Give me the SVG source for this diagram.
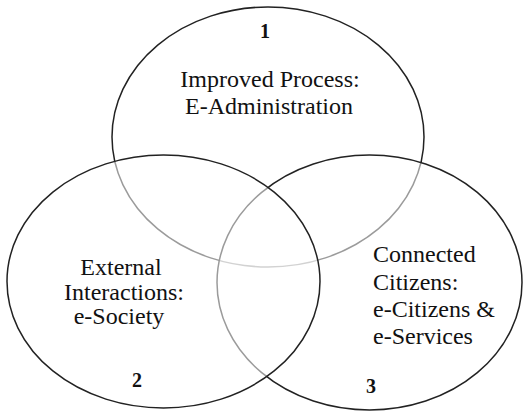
<svg xmlns="http://www.w3.org/2000/svg" width="523" height="413" viewBox="0 0 523 413">
<style>
.c{fill:#fff;fill-opacity:0.55;stroke:#222;stroke-width:1.5}
.t{font-family:'Liberation Serif','DejaVu Serif',serif;font-size:24px;fill:#111}
.n{font-family:'Liberation Serif','DejaVu Serif',serif;font-size:20px;font-weight:bold;fill:#111;text-anchor:middle}
</style>
<rect width="523" height="413" fill="#fff"/>
<g id="node1">
<ellipse class="c" cx="268" cy="137" rx="156" ry="130"/>
</g>
<g id="node3">
<ellipse class="c" cx="369.5" cy="282.5" rx="152.5" ry="127.5"/>
</g>
<g id="node2">
<ellipse class="c" cx="163.5" cy="281.5" rx="156.5" ry="126.5"/>
</g>
<g id="connectors"></g>
<g id="labels1">
<text class="n" x="265" y="38">1</text>
<text class="t" x="270" y="87" text-anchor="middle">Improved Process:</text>
<text class="t" x="269" y="114" text-anchor="middle">E-Administration</text>
</g>
<g id="labels2">
<text class="t" x="121" y="275" text-anchor="middle">External</text>
<text class="t" x="124" y="300" text-anchor="middle">Interactions:</text>
<text class="t" x="119" y="324" text-anchor="middle">e-Society</text>
<text class="n" x="137" y="387">2</text>
</g>
<g id="labels3">
<text class="t" x="373" y="262">Connected</text>
<text class="t" x="373" y="290">Citizens:</text>
<text class="t" x="373" y="317">e-Citizens &amp;</text>
<text class="t" x="373" y="344">e-Services</text>
<text class="n" x="371" y="393">3</text>
</g>
</svg>
